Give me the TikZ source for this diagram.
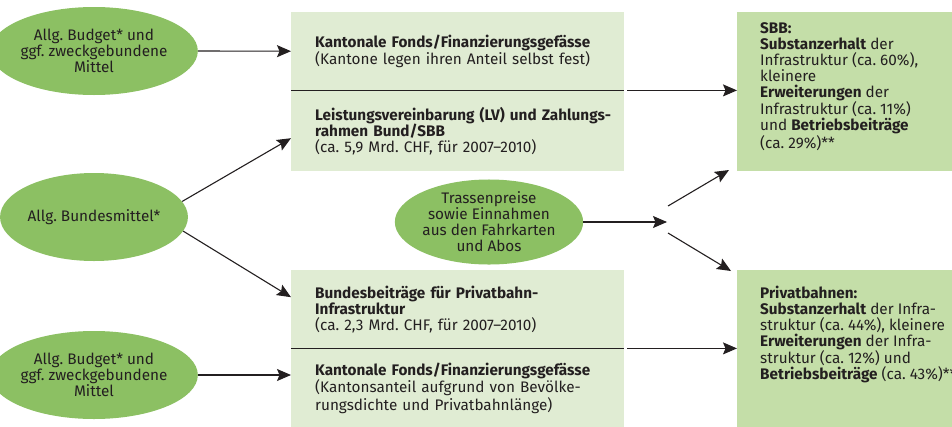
\documentclass[tikz,border=0pt]{standalone}
\usepackage{fontspec}
\setmainfont{Fira Sans}
\usetikzlibrary{shapes.geometric,arrows.meta,calc}
\definecolor{ellg}{HTML}{8CC063}
\definecolor{boxl}{HTML}{E0ECD3}
\definecolor{boxd}{HTML}{C4DEA8}
\definecolor{ink}{HTML}{231F20}
\frenchspacing
\begin{document}
\begin{tikzpicture}[x=1pt,y=-1pt,
  font=\fontsize{15.3}{16}\selectfont, text=ink,
  ell/.style={ellipse, fill=ellg, minimum width=168pt, minimum height=88pt, inner sep=0pt, align=center},
  half/.style={rectangle, fill=boxl, minimum width=333pt, text width=285pt, inner xsep=24pt, inner ysep=0pt, align=left, anchor=north west},
  dark/.style={rectangle, fill=boxd, minimum width=230pt, inner sep=0pt, anchor=north west},
  boxtext/.style={inner sep=0pt, align=left, anchor=north west},
  arr/.style={draw=ink, line width=1.1pt, -{Stealth[length=14pt,width=12pt,inset=2.5pt]}},
  divline/.style={draw=ink, line width=1.1pt}]
\useasboundingbox (0,0) rectangle (952,426);

% ellipses
\node[ell] (e1) at (94,51) {Allg. Budget* und\\ggf. zweckgebundene\\Mittel};
\node[ell] (e2) at (94,217) {Allg. Bundesmittel*};
\node[ell] (e3) at (94,375) {Allg. Budget* und\\ggf. zweckgebundene\\Mittel};
\node[ell, minimum width=174pt, minimum height=80pt] (tr) at (489,222) {Trassenpreise\\sowie Einnahmen\\aus den Fahrkarten\\und Abos};

% left boxes (upper)
\node[half, minimum height=78pt] (kf1) at (291,12) {\mbox{\textbf{Kantonale Fonds/Finanzierungsgefässe}}\\\mbox{(Kantone legen ihren Anteil selbst fest)}};
\node[half, minimum height=81pt] (lv) at (291,90) {\mbox{\textbf{Leistungsvereinbarung (LV) und Zahlungs-}}\\\textbf{rahmen Bund/SBB}\\\mbox{(ca. 5,9 Mrd. CHF, für 2007--2010)}};
% left boxes (lower)
\node[half, minimum height=78pt] (pbb) at (291,270) {\textbf{Bundesbeiträge für Privatbahn-}\\\textbf{Infrastruktur}\\\mbox{(ca. 2,3 Mrd. CHF, für 2007--2010)}};
\node[half, minimum height=80pt] (kf2) at (291,348) {\mbox{\textbf{Kantonale Fonds/Finanzierungsgefässe}}\\\mbox{(Kantonsanteil aufgrund von Bevölke-}\\\mbox{rungsdichte und Privatbahnlänge)}};
\draw[divline] (kf1.south west) -- (kf1.south east);
\draw[divline] (pbb.south west) -- (pbb.south east);

% right boxes
\node[dark, minimum height=159pt] (sbb) at (737,12) {};
\node[boxtext] (sbbt) at (760,22.5) {\textbf{SBB:}\\\textbf{Substanzerhalt} der\\Infrastruktur (ca. 60\%),\\kleinere\\\textbf{Erweiterungen} der\\Infrastruktur (ca. 11\%)\\und \textbf{Betriebsbeiträge}\\(ca. 29\%)**};
\node[dark, minimum height=160pt] (pb) at (737,270) {};
\node[boxtext] (pbt) at (760,285.5) {\textbf{Privatbahnen:}\\\textbf{Substanzerhalt} der Infra-\\struktur (ca. 44\%), kleinere\\\textbf{Erweiterungen} der Infra-\\struktur (ca. 12\%) und\\\textbf{Betriebsbeiträge} (ca. 43\%)**};

% connectors
\draw[arr] (e1.east) -- (kf1.west);
\draw[arr] (e3.east) -- (e3.east -| kf2.west);
\coordinate (a2t) at ([yshift=-7.5pt]lv.west);
\coordinate (a3t) at ([yshift=12pt]pbb.west);
\draw[arr] (e2.10) -- (a2t);
\draw[arr] (e2.-9) -- (a3t);

\coordinate (d1) at ([xshift=3pt]kf1.south east);
\coordinate (d2) at ([xshift=3pt]pbb.south east);
\draw[arr] (d1) -- (d1 -| sbb.west);
\draw[arr] (d2) -- (d2 -| pb.west);

\coordinate (m) at (667,222);
\coordinate (mu) at (668,206);
\coordinate (mut) at (729,170);
\coordinate (md) at (668,233);
\coordinate (mdt) at (731,271);
\draw[arr] (tr.east) -- (m);
\draw[arr] (mu) -- (mut);
\draw[arr] (md) -- (mdt);
\end{tikzpicture}
\end{document}
